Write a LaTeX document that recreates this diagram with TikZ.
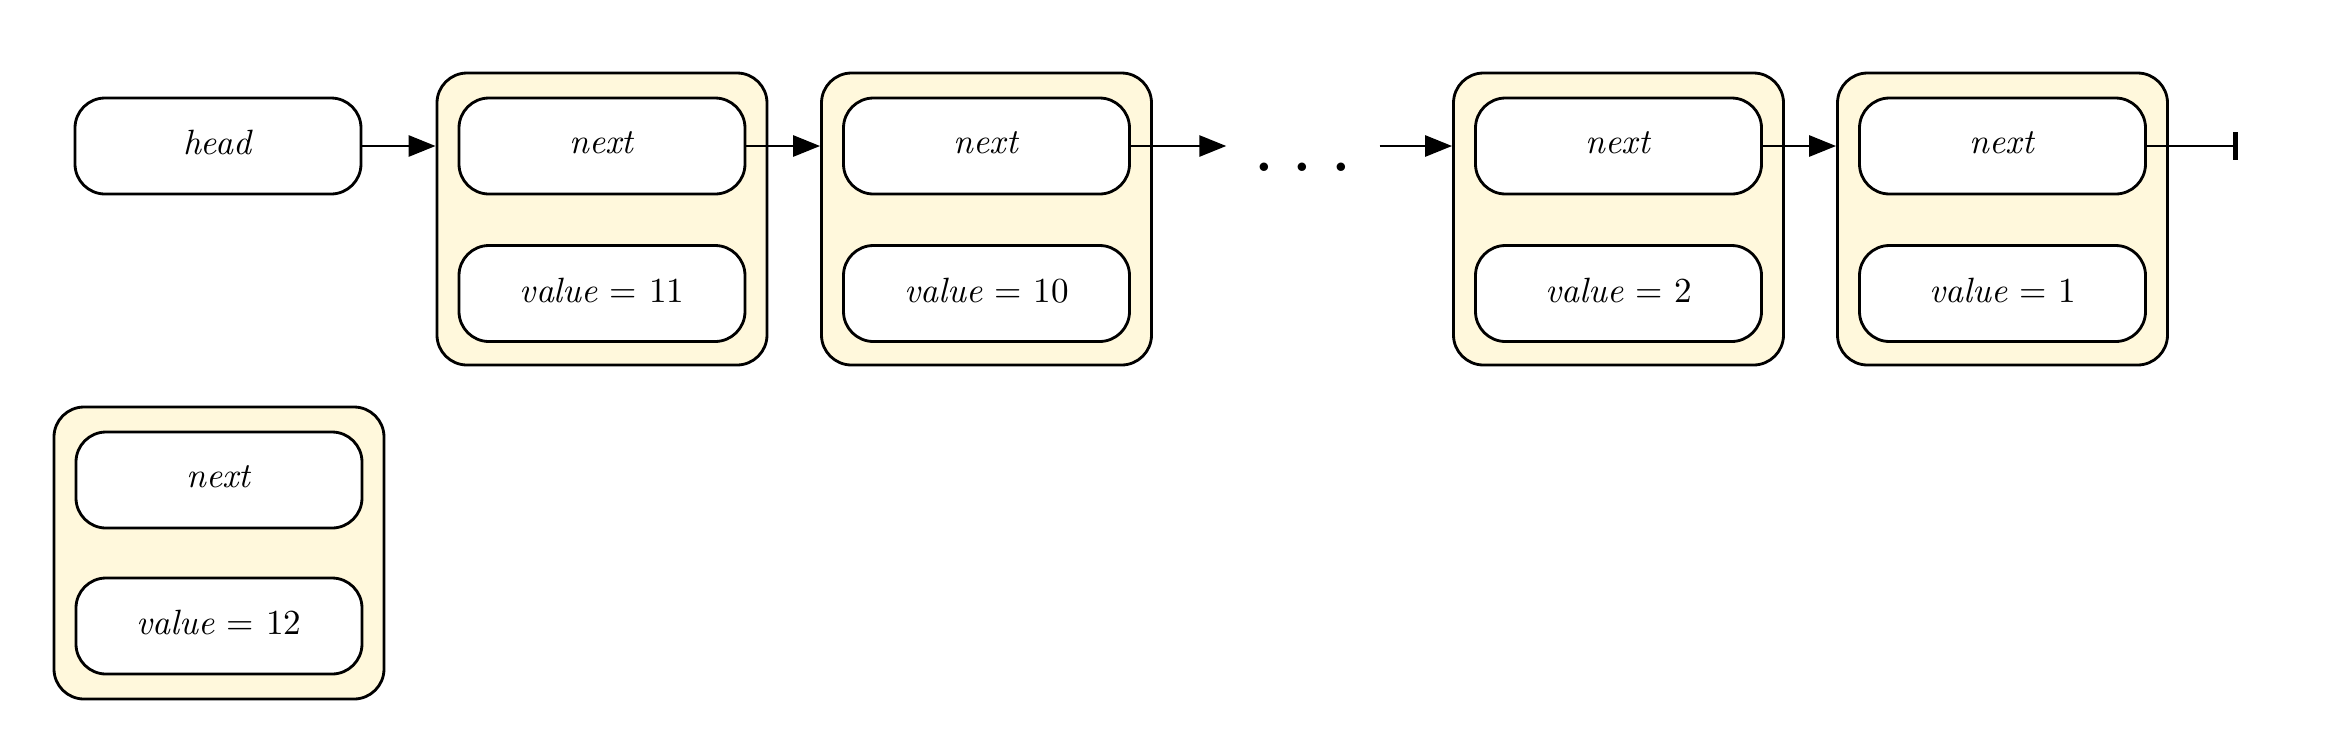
\documentclass[tikz,border=0pt]{standalone}
\usetikzlibrary{arrows.meta}
\definecolor{cellfill}{RGB}{255,248,220}
\begin{document}
\begin{tikzpicture}[
        field/.style={draw, rounded corners=0.3cm, line width=0.8pt, fill=white,
            minimum width=2.86cm, minimum height=0.96cm, inner sep=0pt, text depth=0.07cm},
        cell/.style={draw, rounded corners=0.3cm, line width=0.8pt, fill=cellfill,
            minimum width=3.30cm, minimum height=2.92cm, inner sep=0pt},
        link/.style={line width=0.8pt, -{Triangle[length=0.27cm,width=0.21cm]}}
    ]
        \useasboundingbox (0,0) rectangle (23.37,7.52);

        \node[field] (head) at (2.18,6.06) {\textit{head}};

        \node[cell] (c11) at (6.02,5.33) {};
        \node[field] (c11next) at (6.02,6.06) {\textit{next}};
        \node[field] (c11val) at (6.02,4.585) {\textit{value} = 11};

        \node[cell] (c10) at (9.865,5.33) {};
        \node[field] (c10next) at (9.865,6.06) {\textit{next}};
        \node[field] (c10val) at (9.865,4.585) {\textit{value} = 10};

        \node[text height=0.5cm, minimum width=1.52cm, inner sep=0pt, font=\Huge] (dots) at (13.03,6.06) {$\ldots$};

        \node[cell] (c2) at (16.185,5.33) {};
        \node[field] (c2next) at (16.185,6.06) {\textit{next}};
        \node[field] (c2val) at (16.185,4.585) {\textit{value} = 2};

        \node[cell] (c1) at (20.025,5.33) {};
        \node[field] (c1next) at (20.025,6.06) {\textit{next}};
        \node[field] (c1val) at (20.025,4.585) {\textit{value} = 1};

        \coordinate (nil) at (22.38,6.06);

        \node[cell] (c12) at (2.19,1.99) {};
        \node[field] (c12next) at (2.19,2.72) {\textit{next}};
        \node[field] (c12val) at (2.19,1.26) {\textit{value} = 12};

        \draw[link] (head) -- (head -| c11.west);
        \draw[link] (c11next) -- (c11next -| c10.west);
        \draw[link] (c10next) -- (dots);
        \draw[link] (dots) -- (dots -| c2.west);
        \draw[link] (c2next) -- (c2next -| c1.west);
        \draw[line width=0.8pt, -{Bar[width=0.28cm,line width=1.5pt]}] (c1next) -- (nil);
    \end{tikzpicture}
\end{document}
